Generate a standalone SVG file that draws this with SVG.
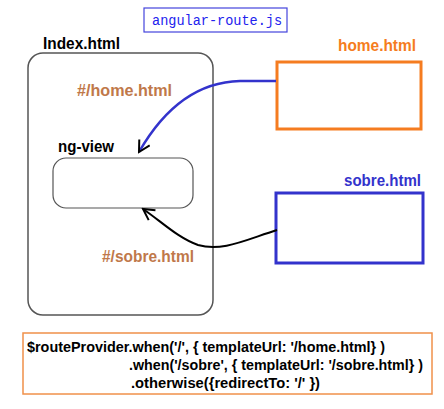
<svg xmlns="http://www.w3.org/2000/svg" width="444" height="409" viewBox="0 0 444 409">
<defs>
<style>
.t{font-family:"Liberation Sans",Arial,sans-serif;font-weight:bold;}
.lbl{font-size:16px;}
.code{font-size:14px;fill:#000;}
.brown{fill:#c0784a;}
</style>
<marker id="ah" viewBox="0 0 14 14" refX="12" refY="7" markerWidth="14" markerHeight="14" markerUnits="userSpaceOnUse" orient="auto">
<path d="M1,1 L12,7 L1,13" fill="none" stroke="#000" stroke-width="2"/>
</marker>
</defs>
<rect width="444" height="409" fill="#fff"/>
<g id="angular-route">
<rect x="144" y="8" width="143" height="24" fill="#fff" stroke="#4444dd" stroke-width="1.2"/>
<text x="152" y="25" font-family="'Liberation Mono',monospace" font-size="14" fill="#2222ee" textLength="130" lengthAdjust="spacingAndGlyphs">angular-route.js</text>
</g>
<g id="index">
<rect x="28" y="53" width="185" height="262" rx="15" fill="none" stroke="#555" stroke-width="1.5"/>
<text class="t lbl" x="43" y="49" fill="#000" textLength="77" lengthAdjust="spacingAndGlyphs">Index.html</text>
<text class="t lbl brown" x="77" y="96" textLength="95" lengthAdjust="spacingAndGlyphs">#/home.html</text>
<text class="t lbl brown" x="102" y="262" textLength="92" lengthAdjust="spacingAndGlyphs">#/sobre.html</text>
</g>
<g id="ng-view">
<rect x="53" y="158" width="140" height="50" rx="13" fill="#fff" stroke="#555" stroke-width="1.2"/>
<text class="t lbl" x="58" y="152" fill="#000" textLength="56" lengthAdjust="spacingAndGlyphs">ng-view</text>
</g>
<g id="home">
<rect x="277" y="62" width="144" height="67" fill="#fff" stroke="#f57c20" stroke-width="3"/>
<text class="t lbl" x="338" y="51" fill="#f57c20" textLength="78" lengthAdjust="spacingAndGlyphs">home.html</text>
</g>
<g id="sobre">
<rect x="276" y="193" width="147" height="70" fill="#fff" stroke="#3333cc" stroke-width="3"/>
<text class="t lbl" x="344" y="186" fill="#3333cc" textLength="77" lengthAdjust="spacingAndGlyphs">sobre.html</text>
</g>
<g id="connectors">
<path d="M276,81 L240,81 C195,82 162,112 139,152" fill="none" stroke="#3333cc" stroke-width="2.5" marker-end="url(#ah)"/>
<path d="M277,230 C245,240 222,252 198,245 C178,238 162,222 143,209" fill="none" stroke="#000" stroke-width="2" marker-end="url(#ah)"/>
</g>
<g id="code">
<rect x="23" y="333" width="409" height="61" fill="#fff" stroke="#f0904a" stroke-width="1.5"/>
<text class="t code" x="27" y="352" textLength="358" lengthAdjust="spacingAndGlyphs">$routeProvider.when('/', { templateUrl: '/home.html} )</text>
<text class="t code" x="129" y="370" textLength="294" lengthAdjust="spacingAndGlyphs">.when('/sobre', { templateUrl: '/sobre.html} )</text>
<text class="t code" x="131" y="388" textLength="189" lengthAdjust="spacingAndGlyphs">.otherwise({redirectTo:  '/' })</text>
</g>
</svg>
